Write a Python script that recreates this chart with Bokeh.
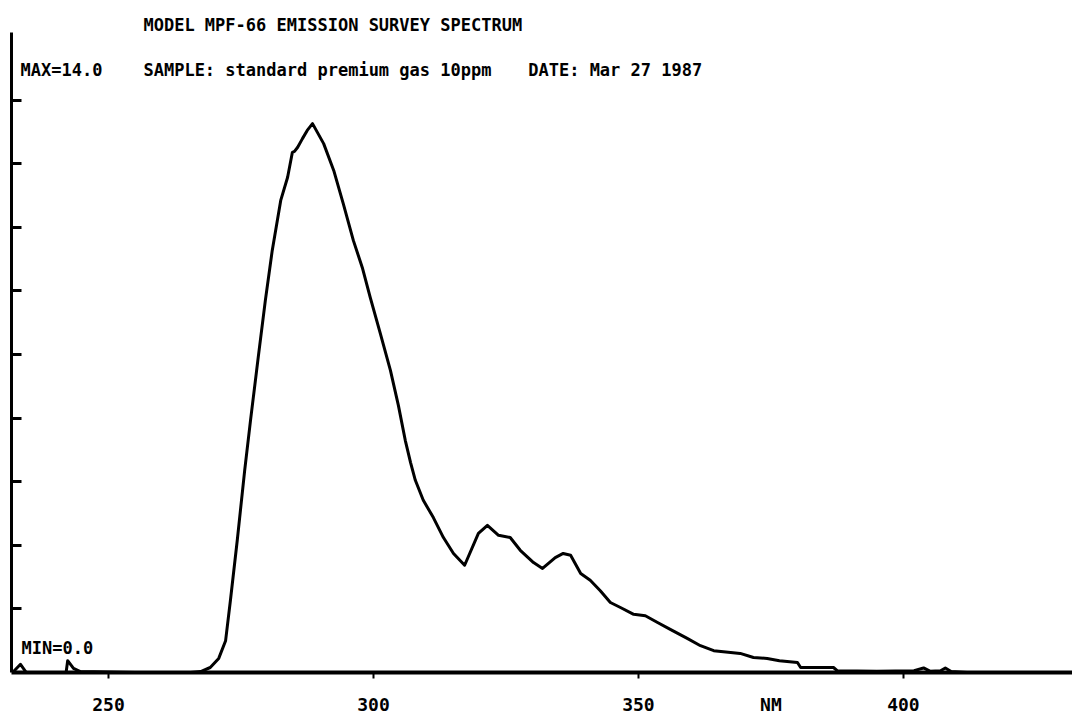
from bokeh.plotting import figure
from bokeh.models import Range1d, FixedTicker, Label, LinearAxis
from bokeh.embed import file_html
from bokeh.resources import INLINE

# wavelength (nm) and emission intensity
wavelength = [231.9, 233.4, 234.5, 242.0, 242.3, 243.4, 244.7, 255.0, 265.5, 267.4,
              269.2, 270.8, 272.1, 273.0, 274.3, 275.7, 276.8, 278.3, 279.6, 280.9,
              282.5, 283.8, 284.7, 285.1, 285.7, 286.6, 287.5, 288.5, 290.6, 292.5,
              294.3, 296.2, 297.9, 299.4, 301.3, 303.2, 304.7, 306.0, 307.0, 307.9,
              309.4, 311.3, 313.2, 315.1, 317.2, 319.8, 321.5, 323.6, 325.8, 327.7,
              330.2, 331.9, 334.3, 335.8, 337.2, 339.1, 340.9, 342.8, 344.7, 346.6,
              349.1, 351.3, 353.6, 356.0, 359.2, 361.7, 364.2, 367.4, 369.2, 371.7,
              374.3, 376.6, 380.0, 380.6, 386.8, 387.5, 395.0, 402.0, 403.8, 405.0,
              407.0, 407.9, 409.0, 412.0, 431.9]
intensity = [0.0, 0.18, 0.0, 0.0, 0.26, 0.09, 0.02, 0.0, 0.0, 0.02,
             0.11, 0.31, 0.70, 1.58, 2.91, 4.45, 5.55, 6.98, 8.19, 9.29,
             10.39, 10.90, 11.45, 11.47, 11.56, 11.75, 11.93, 12.08, 11.64, 11.05,
             10.32, 9.51, 8.91, 8.25, 7.46, 6.65, 5.88, 5.11, 4.62, 4.23,
             3.79, 3.41, 2.97, 2.62, 2.36, 3.06, 3.24, 3.02, 2.97, 2.69,
             2.42, 2.29, 2.53, 2.62, 2.58, 2.18, 2.03, 1.80, 1.54, 1.43,
             1.28, 1.25, 1.10, 0.95, 0.75, 0.59, 0.48, 0.44, 0.42, 0.33,
             0.31, 0.26, 0.22, 0.11, 0.11, 0.04, 0.03, 0.04, 0.10, 0.03,
             0.04, 0.10, 0.02, 0.0, 0.0]

x_tick_marks = [250, 300, 350, 400]
x_label_ticks = [250, 300, 350, 375, 400]
x_label_text = {375: "NM"}
y_ticks = [1.4, 2.8, 4.2, 5.6, 7.0, 8.4, 9.8, 11.2, 12.6]
y_max = 14.0

title_line1 = "MODEL MPF-66 EMISSION SURVEY SPECTRUM"
title_line2a = "SAMPLE: standard premium gas 10ppm"
title_line2b = "DATE: Mar 27 1987"
max_text = "MAX=14.0"
min_text = "MIN=0.0"

FONT = "DejaVu Sans Mono"

p = figure(width=1072, height=717, output_backend="svg", toolbar_location=None,
           x_range=Range1d(231.7, 431.9), y_range=Range1d(0, 14.79),
           x_axis_location=None, y_axis_location=None,
           min_border_left=11, min_border_right=0, min_border_top=0, min_border_bottom=45)
p.outline_line_color = None
p.xgrid.visible = False
p.ygrid.visible = False
p.background_fill_color = "white"
p.border_fill_color = "white"

xa = LinearAxis(ticker=FixedTicker(ticks=x_label_ticks, minor_ticks=x_tick_marks))
xa.major_label_overrides = x_label_text
xa.axis_line_width = 4
xa.axis_line_color = "black"
xa.major_tick_out = 0
xa.major_tick_in = 0
xa.major_tick_line_color = None
xa.minor_tick_out = 6
xa.minor_tick_in = 0
xa.minor_tick_line_width = 2
xa.minor_tick_line_color = "black"
xa.major_label_standoff = 15
xa.major_label_text_font = FONT
xa.major_label_text_font_style = "bold"
xa.major_label_text_font_size = "18px"
xa.major_label_text_color = "black"
p.add_layout(xa, "below")

ya = LinearAxis(ticker=FixedTicker(ticks=y_ticks))
ya.bounds = (0, y_max + 0.09)
ya.axis_line_width = 3
ya.axis_line_color = "black"
ya.major_tick_out = 0
ya.major_tick_in = 10
ya.major_tick_line_width = 3
ya.minor_tick_line_color = None
ya.major_label_standoff = 0
ya.major_label_text_font_size = "0px"
ya.major_label_text_alpha = 0
p.add_layout(ya, "left")

p.line(wavelength, intensity, line_color="black", line_width=3, line_join="round")

def lab(x, y, t, size="17px"):
    p.add_layout(Label(x=x, y=y, text=t, text_font=FONT, text_font_style="bold",
                       text_font_size=size, text_color="black",
                       text_baseline="alphabetic", text_align="left"))

lab(256.6, 14.24, title_line1)
lab(256.6, 13.27, title_line2a)
lab(329.2, 13.27, title_line2b)
lab(233.4, 13.27, max_text)
lab(233.6, 0.55, min_text)

open("out.html", "w").write(file_html(p, INLINE))
